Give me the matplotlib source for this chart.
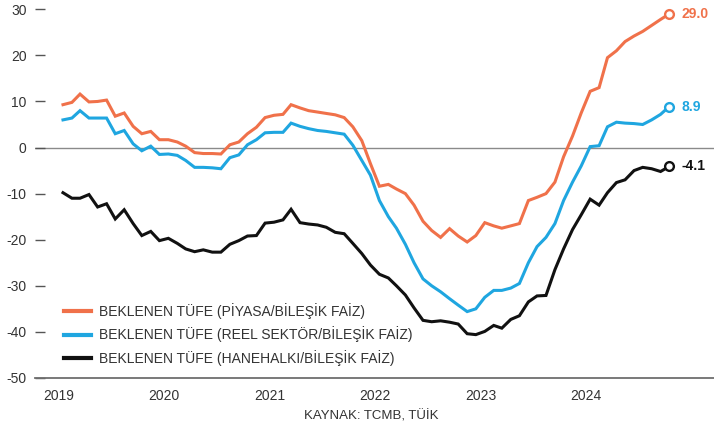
import pandas as pd
import numpy as np
import matplotlib.pyplot as plt
import matplotlib.dates as mdates

# Veriler (aylik, Ocak 2019 - Ekim 2024)
aylar = pd.date_range('2019-01-01', periods=70, freq='MS')

piyasa = [9.3, 9.8, 11.6, 9.9, 10.0, 10.3, 6.8, 7.5, 4.6, 3.0,
          3.5, 1.7, 1.7, 1.2, 0.3, -1.1, -1.3, -1.3, -1.4, 0.6,
          1.2, 3.0, 4.4, 6.5, 7.0, 7.2, 9.3, 8.6, 8.0, 7.7,
          7.4, 7.1, 6.5, 4.5, 1.5, -3.5, -8.4, -8.0, -9.0, -10.0,
          -12.5, -16.0, -18.0, -19.5, -17.6, -19.2, -20.5, -19.1, -16.3, -17.0,
          -17.5, -17.0, -16.5, -11.5, -10.8, -10.0, -7.5, -2.0, 2.5, 7.5,
          12.2, 13.0, 19.5, 21.0, 23.0, 24.2, 25.2, 26.5, 27.8, 29.0]

reel = [6.0, 6.4, 8.0, 6.4, 6.4, 6.4, 3.0, 3.7, 0.8, -0.7,
        0.3, -1.5, -1.4, -1.7, -2.8, -4.3, -4.3, -4.4, -4.6, -2.2,
        -1.6, 0.6, 1.7, 3.2, 3.3, 3.3, 5.3, 4.6, 4.1, 3.7,
        3.5, 3.2, 2.9, 0.5, -2.8, -6.0, -11.5, -15.0, -17.5, -21.0,
        -25.0, -28.5, -30.0, -31.3, -32.8, -34.2, -35.6, -35.0, -32.5, -31.0,
        -31.0, -30.5, -29.5, -25.0, -21.5, -19.5, -16.5, -11.5, -7.5, -4.0,
        0.2, 0.4, 4.5, 5.5, 5.3, 5.2, 5.0, 6.0, 7.2, 8.9]

hanehalki = [-9.8, -11.0, -11.0, -10.2, -12.9, -12.2, -15.5, -13.5, -16.5, -19.1,
             -18.2, -20.2, -19.7, -20.8, -22.0, -22.6, -22.2, -22.7, -22.7, -21.0,
             -20.2, -19.2, -19.1, -16.4, -16.2, -15.7, -13.4, -16.3, -16.6, -16.8,
             -17.3, -18.4, -18.7, -20.8, -23.0, -25.5, -27.5, -28.3, -30.0, -32.0,
             -34.8, -37.5, -37.8, -37.6, -37.9, -38.3, -40.4, -40.6, -39.9, -38.6,
             -39.2, -37.3, -36.5, -33.5, -32.2, -32.1, -26.5, -22.0, -17.8, -14.6,
             -11.2, -12.5, -9.8, -7.6, -7.0, -5.0, -4.3, -4.6, -5.2, -4.1]

yillar = [2019, 2020, 2021, 2022, 2023, 2024]

etiketler = ['BEKLENEN TÜFE (PİYASA/BİLEŞİK FAİZ)',
             'BEKLENEN TÜFE (REEL SEKTÖR/BİLEŞİK FAİZ)',
             'BEKLENEN TÜFE (HANEHALKI/BİLEŞİK FAİZ)']
renkler = ['#F0714A', '#1FA6E0', '#111111']
seriler = [piyasa, reel, hanehalki]

plt.rcParams['font.family'] = ['Liberation Sans', 'DejaVu Sans']

fig = plt.figure(figsize=(7.14, 4.29), dpi=100)
ax = fig.add_axes([0.049, 0.119, 0.951, 0.869])

for seri, renk, etiket in zip(seriler, renkler, etiketler):
    ax.plot(aylar, seri, color=renk, lw=2.2, label=etiket, solid_joinstyle='miter', zorder=3)
    ax.plot(aylar[-1], seri[-1], 'o', ms=6.3, mfc='white', mec=renk, mew=1.7, zorder=4)
    ax.annotate(f'{seri[-1]:.1f}', (aylar[-1], seri[-1]), xytext=(9, 0),
                textcoords='offset points', va='center', ha='left',
                color=renk, fontsize=10, fontweight='bold')

ax.axhline(0, color='#8a8a8a', lw=1.0, zorder=1)

ax.set_ylim(-50, 30.9)
ax.set_xlim(pd.Timestamp('2018-09-26'), pd.Timestamp('2025-03-05'))
ax.set_yticks(range(-50, 31, 10))
ax.set_yticklabels([str(v) for v in range(-50, 31, 10)])
ax.set_xticks([pd.Timestamp(f'{y}-01-01') - pd.Timedelta(days=15) for y in yillar])
ax.set_xticklabels([str(y) for y in yillar])

for s in ['top', 'right', 'left']:
    ax.spines[s].set_visible(False)
ax.spines['bottom'].set_color('#6e6e6e')
ax.spines['bottom'].set_linewidth(1.3)

ax.tick_params(axis='y', direction='in', length=7, width=1, color='#555555',
               labelcolor='#333333', labelsize=10, pad=6)
ax.tick_params(axis='x', length=0, labelcolor='#333333', labelsize=10, pad=8)

leg = ax.legend(loc='upper left', bbox_to_anchor=(0.025, 0.235), frameon=False,
                fontsize=10, handlelength=1.9, handletextpad=0.6, labelspacing=0.55,
                labelcolor='#333333')
for h in leg.get_lines():
    h.set_linewidth(3)

fig.text(0.52, 0.03, 'KAYNAK: TCMB, TÜİK', ha='center', va='center',
         fontsize=9.5, color='#333333')

plt.savefig('out.png', dpi=100)
plt.close()
